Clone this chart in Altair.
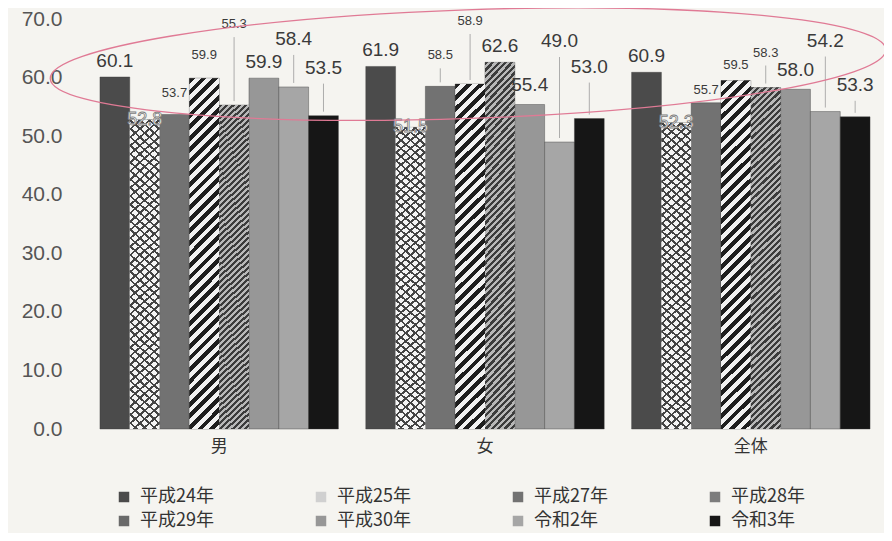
import altair as alt
import pandas as pd

series = ["平成24年", "平成25年", "平成27年", "平成28年", "平成29年", "平成30年", "令和2年", "令和3年"]
groups = ["男", "女", "全体"]
male = [60.1, 52.8, 53.7, 59.9, 55.3, 59.9, 58.4, 53.5]
female = [61.9, 51.5, 58.5, 58.9, 62.6, 55.4, 49.0, 53.0]
total = [60.9, 52.3, 55.7, 59.5, 58.3, 58.0, 54.2, 53.3]
y_ticks = [0, 10, 20, 30, 40, 50, 60, 70]

# label lift above the bar top, in pixels (layout only)
label_lift_px = {
    "男": [0, 0, 8, 10, 68, 0, 32, 32],
    "女": [0, 0, 18, 50, 0, 4, 85, 36],
    "全体": [0, 0, 0, 3, 22, 3, 55, 16],
}

W, H = 798, 410
PAD_L, PAD_T = 78, 11
PX_PER_UNIT = H / 70.0

rows = []
for g, vals in zip(groups, [male, female, total]):
    for i, (s, v) in enumerate(zip(series, vals)):
        rows.append({"group": g, "series": s, "value": v,
                     "label_y": v + label_lift_px[g][i] / PX_PER_UNIT,
                     "lifted": label_lift_px[g][i] > 14})
df = pd.DataFrame(rows)

colors = ["#4b4b4b", "#d0d0d0", "#727272", "#7c7c7c", "#6a6a6a", "#979797", "#a6a6a6", "#161616"]

JP = "Noto Sans CJK JP"
NUM = "Liberation Sans"

P_IN, P_OUT = 0.103, 0.0525
bar_w = W / (3 - P_IN + 2 * P_OUT) * (1 - P_IN) / 8
bar_h = 350.0
ratio = bar_w / bar_h


def stripe_stops(c1, c2, n, frac=0.5):
    stops = []
    for i in range(n):
        a = i / n
        b = (i + frac) / n
        c = (i + 1) / n
        stops += [
            alt.GradientStop(offset=round(a, 5), color=c1),
            alt.GradientStop(offset=round(b, 5), color=c1),
            alt.GradientStop(offset=round(b, 5), color=c2),
            alt.GradientStop(offset=round(min(c, 1.0), 5), color=c2),
        ]
    return stops


def slash(c1, c2, n, frac=0.5):
    b = 1.08
    return alt.LinearGradient(gradient="linear", stops=stripe_stops(c1, c2, n, frac),
                              x1=0, y1=0, x2=b * ratio, y2=b)


def backslash(c1, c2, n, frac=0.5):
    b = 1.08
    return alt.LinearGradient(gradient="linear", stops=stripe_stops(c1, c2, n, frac),
                              x1=1, y1=0, x2=1 - b * ratio, y2=b)


x_enc = alt.X("group:N", sort=groups, title=None,
              scale=alt.Scale(paddingInner=P_IN, paddingOuter=P_OUT),
              axis=alt.Axis(labelAngle=0, labelFont=JP, labelFontSize=17, labelColor="#333333",
                            ticks=False, domain=False, labelPadding=9))
xo_scale = alt.Scale(domain=series, paddingInner=0, paddingOuter=0)
xo_enc = alt.XOffset("series:N", sort=series, scale=xo_scale)
y_scale = alt.Scale(domain=[0, 70], nice=False)
y_enc = alt.Y("value:Q", title=None, scale=y_scale,
              axis=alt.Axis(values=y_ticks, format=".1f", labelFont=NUM, labelFontSize=21,
                            labelColor="#555555", ticks=False, domain=False, grid=False,
                            labelPadding=24))

base = alt.Chart(df).mark_bar(stroke="#3a3a3a", strokeWidth=0.4).encode(
    x=x_enc, xOffset=xo_enc, y=y_enc,
    color=alt.Color("series:N", sort=series,
                    scale=alt.Scale(domain=series, range=colors),
                    legend=alt.Legend(title=None, orient="none", legendX=29, legendY=469,
                                      direction="horizontal", columns=4,
                                      symbolType="square", symbolSize=110,
                                      symbolStrokeWidth=0, labelFont=JP, labelFontSize=18,
                                      labelColor="#333333", columnPadding=98, rowPadding=6,
                                      labelOffset=7)),
)


def overlay(name, fill):
    return alt.Chart(df).transform_filter(alt.datum.series == name).mark_bar(fill=fill).encode(
        x=x_enc, xOffset=xo_enc, y=y_enc)


white25 = overlay("平成25年", "#f4f4f4")
cross1 = overlay("平成25年", slash("#444444", "rgba(255,255,255,0)", 40, 0.28))
cross2 = overlay("平成25年", backslash("#444444", "rgba(255,255,255,0)", 40, 0.28))
p28 = overlay("平成28年", slash("#1e1e1e", "#f2f2f2", 33, 0.5))
p29 = overlay("平成29年", slash("#3c3c3c", "#b8b8b8", 60, 0.5))

leaders = alt.Chart(df).transform_filter(alt.datum.lifted).mark_rule(
    color="#9a9a9a", strokeWidth=0.8, yOffset=-4).encode(
    x=x_enc, xOffset=alt.XOffset("series:N", sort=series, scale=xo_scale, bandPosition=0.5),
    y=alt.Y("value:Q", scale=y_scale), y2="label_y:Q")

size_cond = alt.condition(
    "datum.series == '平成27年' || datum.series == '平成28年' || (datum.series == '平成29年' && datum.group != '女')",
    alt.value(13), alt.value(19))

labels = alt.Chart(df).transform_filter(alt.datum.series != "平成25年").mark_text(
    baseline="bottom", dy=-6, font=NUM, color="#3a3a3a").encode(
    x=x_enc, xOffset=xo_enc, y=alt.Y("label_y:Q", scale=y_scale),
    text=alt.Text("value:Q", format=".1f"), size=size_cond)

labels25 = alt.Chart(df).transform_filter(alt.datum.series == "平成25年").mark_text(
    baseline="middle", dy=0, font=NUM, fontSize=18, color="#ffffff",
    stroke="#7a7a7a", strokeWidth=0.8).encode(
    x=x_enc, xOffset=xo_enc, y=y_enc,
    text=alt.Text("value:Q", format=".1f"))

ellipse_path = "M -1 0 A 1 0.13 0 1 1 1 0 A 1 0.13 0 1 1 -1 0 Z"
ellipse = alt.Chart(alt.Data(values=[{"a": 1}])).mark_point(
    shape=ellipse_path, size=836 * 836, filled=False, stroke="#e07a95",
    strokeWidth=1.3, opacity=1, xOffset=-17, angle=358).encode(
    x=alt.datum("女"), y=alt.datum(62.3))

chart = alt.layer(base, white25, cross1, cross2, p28, p29, leaders, labels, labels25, ellipse).properties(
    width=W, height=H, background="#f5f4f0",
    autosize=alt.AutoSizeParams(type="none"),
    padding={"left": PAD_L, "top": PAD_T, "right": 876 - PAD_L - W, "bottom": 525 - PAD_T - H},
).configure_view(stroke=None)

chart.save("out.html", embed_options={"renderer": "svg", "actions": False})
